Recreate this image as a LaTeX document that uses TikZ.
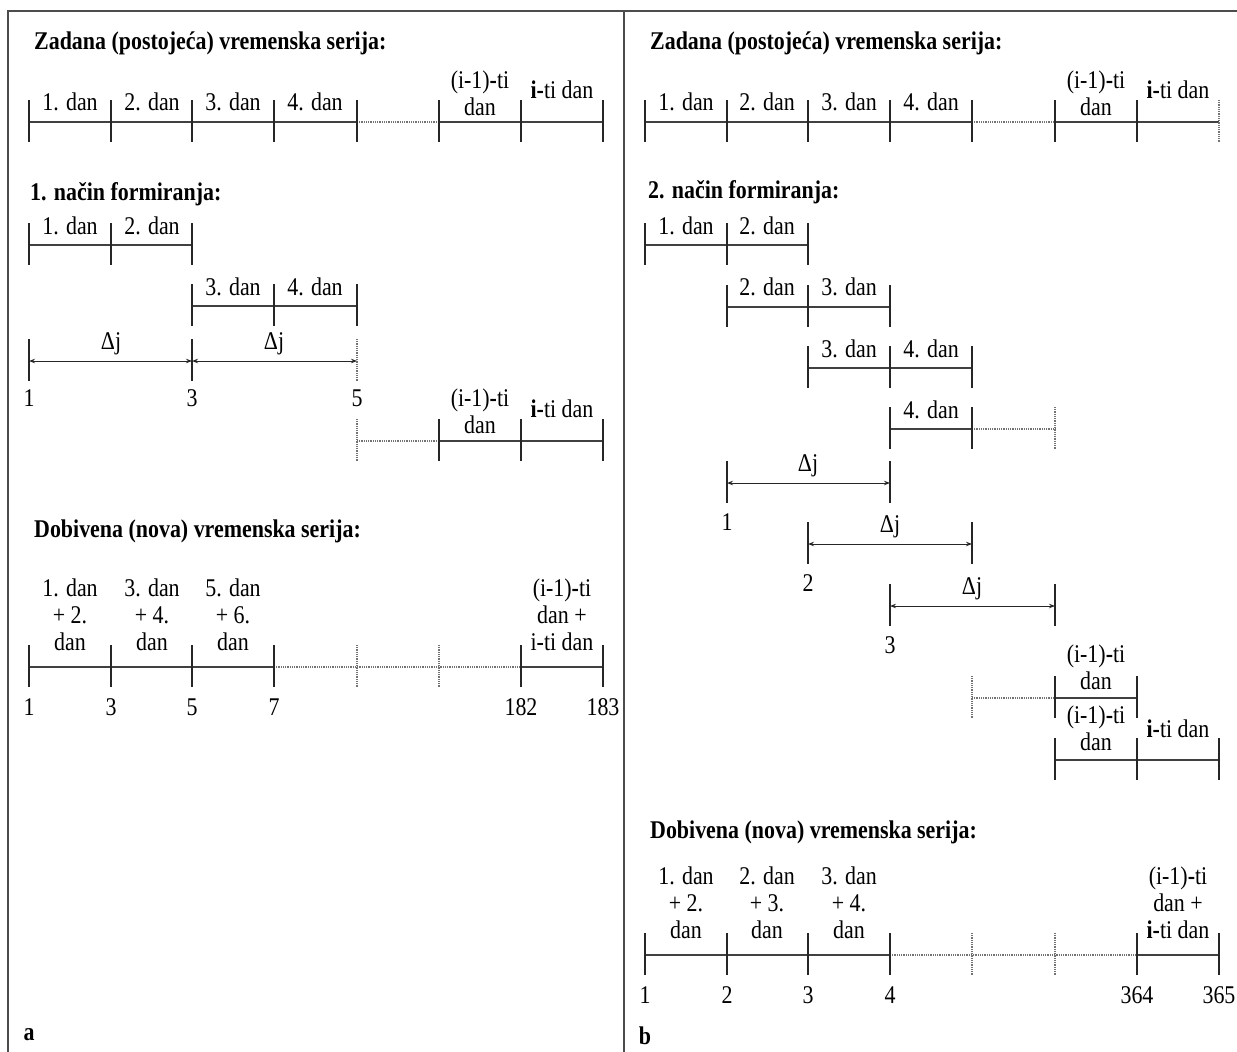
\documentclass[tikz,border=0pt]{standalone}
\usepackage{fontspec}
\setmainfont{Liberation Serif}[Ligatures=TeX]
\usetikzlibrary{arrows.meta}
\tikzset{
  frameline/.style={line width=1.4pt, black!70},
  seg/.style={line width=1.4pt, black!75},
  tickline/.style={line width=1.2pt, black!85},
  dotseg/.style={line width=1.2pt, black!55, dash pattern=on 1pt off 0.8pt},
  dimline/.style={line width=1pt, black!85, {Stealth[length=6pt,width=4.5pt]}-{Stealth[length=6pt,width=4.5pt]}},
  lbl/.style={font=\fontsize{25.5}{27}\selectfont, inner sep=0pt, align=center, xscale=0.86, transform shape},
  ttl/.style={font=\bfseries\fontsize{25.5}{27}\selectfont, inner sep=0pt, anchor=west, xscale=0.86, transform shape},
  bl/.style={font=\bfseries\fontsize{25.5}{27}\selectfont, inner sep=0pt, xscale=0.86, transform shape},
}
\newcommand{\tk}[2][tickline]{\draw[#1] ([yshift=22pt]#2) -- ([yshift=-20pt]#2);}
\begin{document}
\begin{tikzpicture}[x=1pt,y=-1pt]
\useasboundingbox (0,0) rectangle (1237,1052);
% frame
\coordinate (fBL) at (8,1052); \coordinate (fTL) at (8,11); \coordinate (fTR) at (1237,11);
\coordinate (fMT) at (624,11); \coordinate (fMB) at (624,1052);
\draw[frameline] (fBL) -- (fTL) -- (fTR);
\draw[frameline] (fMT) -- (fMB);

% ================= LEFT PANEL =================
\node[ttl] (tA1) at (34,43) {Zadana (postojeća) vremenska serija:};
\foreach \i/\x in {1/29,2/111,3/192,4/274,5/357,6/439,7/521,8/603} {\coordinate (LA\i) at (\x,122);}
\draw[seg] (LA1) -- (LA5); \draw[dotseg] (LA5) -- (LA6); \draw[seg] (LA6) -- (LA8);
\foreach \i in {1,...,8} {\tk{LA\i}}
\node[lbl] (la1) at (70,102) {1. dan};
\node[lbl] (la2) at (152,102) {2. dan};
\node[lbl] (la3) at (233,102) {3. dan};
\node[lbl] (la4) at (315,102) {4. dan};
\node[lbl] (la6) at (480,93) {(i-1)\textbf{-}ti\\dan};
\node[lbl] (la7) at (562,90) {\textbf{i-}ti dan};

\node[ttl] (tA2) at (30,194) {1. način formiranja:};
\foreach \i/\x in {1/29,2/111,3/192} {\coordinate (LB\i) at (\x,245);}
\draw[seg] (LB1) -- (LB3);
\foreach \i in {1,2,3} {\tk{LB\i}}
\node[lbl] (lb1) at (70,226) {1. dan};
\node[lbl] (lb2) at (152,226) {2. dan};
\foreach \i/\x in {1/192,2/274,3/357} {\coordinate (LC\i) at (\x,306);}
\draw[seg] (LC1) -- (LC3);
\foreach \i in {1,2,3} {\tk{LC\i}}
\node[lbl] (lc1) at (233,287) {3. dan};
\node[lbl] (lc2) at (315,287) {4. dan};

\coordinate (LD1) at (29,361); \coordinate (LD2) at (192,361); \coordinate (LD3) at (357,361);
\tk{LD1} \tk{LD2} \tk[dotseg]{LD3}
\draw[dimline] (LD1) -- (LD2);
\draw[dimline] (LD2) -- (LD3);
\node[lbl] (ldj1) at (111,344) {Δj};
\node[lbl] (ldj2) at (274,344) {Δj};
\node[lbl] (ln1) at (29,398) {1};
\node[lbl] (ln3) at (192,398) {3};
\node[lbl] (ln5) at (357,398) {5};

\foreach \i/\x in {1/357,2/439,3/521,4/603} {\coordinate (LE\i) at (\x,441);}
\draw[dotseg] (LE1) -- (LE2); \draw[seg] (LE2) -- (LE4);
\tk[dotseg]{LE1} \tk{LE2} \tk{LE3} \tk{LE4}
\node[lbl] (le1) at (480,411) {(i-1)\textbf{-}ti\\dan};
\node[lbl] (le2) at (562,409) {\textbf{i-}ti dan};

\node[ttl] (tA3) at (34,531) {Dobivena (nova) vremenska serija:};
\foreach \i/\x in {1/29,2/111,3/192,4/274,5/357,6/439,7/521,8/603} {\coordinate (LF\i) at (\x,667);}
\draw[seg] (LF1) -- (LF4); \draw[dotseg] (LF4) -- (LF7); \draw[seg] (LF7) -- (LF8);
\tk{LF1} \tk{LF2} \tk{LF3} \tk{LF4} \tk[dotseg]{LF5} \tk[dotseg]{LF6} \tk{LF7} \tk{LF8}
\node[lbl] (lf1) at (70,615) {1. dan\\+ 2.\\dan};
\node[lbl] (lf2) at (152,615) {3. dan\\+ 4.\\dan};
\node[lbl] (lf3) at (233,615) {5. dan\\+ 6.\\dan};
\node[lbl] (lf7) at (562,615) {(i-1)\textbf{-}ti\\dan +\\i-ti dan};
\node[lbl] (lfn1) at (29,707) {1};
\node[lbl] (lfn2) at (111,707) {3};
\node[lbl] (lfn3) at (192,707) {5};
\node[lbl] (lfn4) at (274,707) {7};
\node[lbl] (lfn7) at (521,707) {182};
\node[lbl] (lfn8) at (603,707) {183};
\node[bl] (pa) at (29,1035) {a};

% ================= RIGHT PANEL =================
\node[ttl] (tB1) at (650,43) {Zadana (postojeća) vremenska serija:};
\foreach \i/\x in {1/645,2/727,3/808,4/890,5/972,6/1055,7/1137,8/1219} {\coordinate (RA\i) at (\x,122);}
\draw[seg] (RA1) -- (RA5); \draw[dotseg] (RA5) -- (RA6); \draw[seg] (RA6) -- (RA8);
\foreach \i in {1,...,7} {\tk{RA\i}}
\tk[dotseg]{RA8}
\node[lbl] (ra1) at (686,102) {1. dan};
\node[lbl] (ra2) at (767,102) {2. dan};
\node[lbl] (ra3) at (849,102) {3. dan};
\node[lbl] (ra4) at (931,102) {4. dan};
\node[lbl] (ra6) at (1096,93) {(i-1)\textbf{-}ti\\dan};
\node[lbl] (ra7) at (1178,90) {\textbf{i-}ti dan};

\node[ttl] (tB2) at (648,192) {2. način formiranja:};
\foreach \i/\x in {1/645,2/727,3/808} {\coordinate (RB\i) at (\x,245);}
\draw[seg] (RB1) -- (RB3);
\foreach \i in {1,2,3} {\tk{RB\i}}
\node[lbl] (rb1) at (686,226) {1. dan};
\node[lbl] (rb2) at (767,226) {2. dan};
\foreach \i/\x in {1/727,2/808,3/890} {\coordinate (RC\i) at (\x,307);}
\draw[seg] (RC1) -- (RC3);
\foreach \i in {1,2,3} {\tk{RC\i}}
\node[lbl] (rc1) at (767,287) {2. dan};
\node[lbl] (rc2) at (849,287) {3. dan};
\foreach \i/\x in {1/808,2/890,3/972} {\coordinate (RD\i) at (\x,368);}
\draw[seg] (RD1) -- (RD3);
\foreach \i in {1,2,3} {\tk{RD\i}}
\node[lbl] (rd1) at (849,349) {3. dan};
\node[lbl] (rd2) at (931,349) {4. dan};
\foreach \i/\x in {1/890,2/972,3/1055} {\coordinate (RE\i) at (\x,429);}
\draw[seg] (RE1) -- (RE2); \draw[dotseg] (RE2) -- (RE3);
\tk{RE1} \tk{RE2} \tk[dotseg]{RE3}
\node[lbl] (re1) at (931,410) {4. dan};

\coordinate (RF1) at (727,483); \coordinate (RF2) at (890,483);
\tk{RF1} \tk{RF2} \draw[dimline] (RF1) -- (RF2);
\node[lbl] (rfdj) at (808,466) {Δj};
\node[lbl] (rfn) at (727,522) {1};
\coordinate (RG1) at (808,544); \coordinate (RG2) at (972,544);
\tk{RG1} \tk{RG2} \draw[dimline] (RG1) -- (RG2);
\node[lbl] (rgdj) at (890,527) {Δj};
\node[lbl] (rgn) at (808,583) {2};
\coordinate (RH1) at (890,606); \coordinate (RH2) at (1055,606);
\tk{RH1} \tk{RH2} \draw[dimline] (RH1) -- (RH2);
\node[lbl] (rhdj) at (972,589) {Δj};
\node[lbl] (rhn) at (890,645) {3};

\foreach \i/\x in {1/972,2/1055,3/1137} {\coordinate (RI\i) at (\x,698);}
\draw[dotseg] (RI1) -- (RI2); \draw[seg] (RI2) -- (RI3);
\tk[dotseg]{RI1} \tk{RI2} \tk{RI3}
\node[lbl] (ri1) at (1096,667) {(i-1)\textbf{-}ti\\dan};
\foreach \i/\x in {1/1055,2/1137,3/1219} {\coordinate (RJ\i) at (\x,760);}
\draw[seg] (RJ1) -- (RJ3);
\foreach \i in {1,2,3} {\tk{RJ\i}}
\node[lbl] (rj1) at (1096,728) {(i-1)\textbf{-}ti\\dan};
\node[lbl] (rj2) at (1178,729) {\textbf{i-}ti dan};

\node[ttl] (tB3) at (650,832) {Dobivena (nova) vremenska serija:};
\foreach \i/\x in {1/645,2/727,3/808,4/890,5/972,6/1055,7/1137,8/1219} {\coordinate (RK\i) at (\x,955);}
\draw[seg] (RK1) -- (RK4); \draw[dotseg] (RK4) -- (RK7); \draw[seg] (RK7) -- (RK8);
\tk{RK1} \tk{RK2} \tk{RK3} \tk{RK4} \tk[dotseg]{RK5} \tk[dotseg]{RK6} \tk{RK7} \tk{RK8}
\node[lbl] (rk1) at (686,903) {1. dan\\+ 2.\\dan};
\node[lbl] (rk2) at (767,903) {2. dan\\+ 3.\\dan};
\node[lbl] (rk3) at (849,903) {3. dan\\+ 4.\\dan};
\node[lbl] (rk7) at (1178,903) {(i-1)\textbf{-}ti\\dan +\\\textbf{i-}ti dan};
\node[lbl] (rkn1) at (645,995) {1};
\node[lbl] (rkn2) at (727,995) {2};
\node[lbl] (rkn3) at (808,995) {3};
\node[lbl] (rkn4) at (890,995) {4};
\node[lbl] (rkn7) at (1137,995) {364};
\node[lbl] (rkn8) at (1219,995) {365};
\node[bl] (pb) at (645,1036) {b};
\end{tikzpicture}
\end{document}
